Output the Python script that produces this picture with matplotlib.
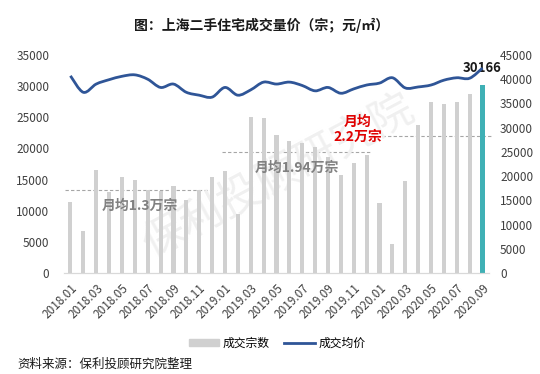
import numpy as np
import matplotlib.pyplot as plt
from matplotlib.path import Path
from matplotlib.patches import PathPatch, Patch
from matplotlib.lines import Line2D

plt.rcParams['font.family'] = ['Noto Sans CJK SC', 'DejaVu Sans']

# Data: monthly counts (left axis) and average price (right axis), 2018.01 - 2020.09
months = ['%d.%02d' % (y, m) for y in (2018, 2019, 2020) for m in range(1, 13)][:33]
counts = [11400, 6700, 16600, 13000, 15400, 14900, 13400, 13100, 13900, 11700, 13400, 15400,
          16300, 9400, 25000, 24900, 22200, 21200, 20800, 20300, 18600, 15700, 17600, 19000,
          11200, 4600, 14800, 23700, 27400, 27200, 27500, 28800, 30166]
prices = [40700, 37300, 39000, 39900, 40600, 40900, 40000, 38300, 39000, 37300, 36700, 36300,
          38300, 36700, 37800, 39400, 39000, 39400, 38700, 37600, 38300, 37100, 38000, 38800,
          39200, 40300, 38200, 38400, 38800, 39800, 40300, 40200, 42300]
avg_levels = [13400, 19400, 22000]
avg_labels = ['月均1.3万宗', '月均1.94万宗', '月均\n2.2万宗']

n = len(counts)
x = np.arange(n)

fig = plt.figure(figsize=(5.4, 3.74), dpi=100)
ax = fig.add_axes([0.1185, 0.270, 0.787, 0.583])
ax2 = ax.twinx()

bar_colors = ['#d0d0d0'] * (n - 1) + ['#3fb0b5']
ax.bar(x, counts, width=0.32, color=bar_colors, zorder=2)
ax.set_xlim(-0.5, n - 0.5)
ax.set_ylim(0, 35000)
ax.set_yticks(range(0, 35001, 5000))
ax2.set_ylim(0, 45000)
ax2.set_yticks(range(0, 45001, 5000))

# smooth price line (Catmull-Rom -> cubic bezier, like excel's smoothed line)
pts = np.column_stack([x, prices]).astype(float)
verts = [pts[0]]
codes = [Path.MOVETO]
for i in range(n - 1):
    p0 = pts[max(i - 1, 0)]
    p1 = pts[i]
    p2 = pts[i + 1]
    p3 = pts[min(i + 2, n - 1)]
    verts += [p1 + (p2 - p0) / 6, p2 - (p3 - p1) / 6, p2]
    codes += [Path.CURVE4] * 3
ax2.add_patch(PathPatch(Path(verts, codes), fill=False, edgecolor='#2f5597', lw=2, zorder=3))

# period averages
spans = [(-0.4, 11.1), (11.8, 23.4), (24.2, 32.7)]
for (a, b), lvl in zip(spans, avg_levels):
    ax.plot([a, b], [lvl, lvl], ls=(0, (3, 2)), color='#a6a6a6', lw=0.8, clip_on=False, zorder=1)
ax.text(5.4, 10700, avg_labels[0], ha='center', va='center', fontsize=10,
        fontweight='bold', color='#808080', zorder=4)
ax.text(17.6, 16800, avg_labels[1], ha='center', va='center', fontsize=10,
        fontweight='bold', color='#808080', zorder=4)
ax.text(22.3, 23000, avg_labels[2], ha='center', va='center', fontsize=10,
        fontweight='bold', color='#e00000', linespacing=1.1, zorder=4)

ax.annotate(str(counts[-1]), (x[-1], counts[-1]), xytext=(0, 7), textcoords='offset points',
            ha='center', va='bottom', fontsize=9.5, fontweight='bold', color='#1a1a1a', zorder=5)

# watermark, faint, under the bars
ax.text(0.515, 0.525, '保利投顾研究院', transform=fig.transFigure, fontsize=31, rotation=28,
        color='#f0f0f0', ha='center', va='center', zorder=1.5)

ax.set_xticks(x[::2])
ax.set_xticklabels(months[::2], rotation=45, ha='right', rotation_mode='anchor')
ax.tick_params(axis='x', length=0, labelsize=8.5, colors='#404040', pad=6)
ax.tick_params(axis='y', length=0, labelsize=8.5, colors='#404040', pad=10.5)
ax2.tick_params(axis='y', length=0, labelsize=8.5, colors='#404040', pad=8)
for a in (ax, ax2):
    for s in ('top', 'left', 'right'):
        a.spines[s].set_visible(False)
    a.spines['bottom'].set_color('#d9d9d9')
    a.set_facecolor('none')

fig.text(0.485, 0.933, '图：上海二手住宅成交量价（宗；元/㎡）', ha='center', va='center',
         fontsize=10, fontweight='bold', color='#1a1a1a')

handles = [Patch(color='#d0d0d0', label='成交宗数'),
           Line2D([], [], color='#2f5597', lw=2, label='成交均价')]
fig.legend(handles=handles, loc='center', bbox_to_anchor=(0.513, 0.082), ncol=2,
           frameon=False, fontsize=8.5, handlelength=2.6, handleheight=0.6,
           columnspacing=1.2, handletextpad=0.3)
fig.text(0.032, 0.025, '资料来源：保利投顾研究院整理', ha='left', va='center',
         fontsize=9, color='#1a1a1a')

fig.savefig('out.png', dpi=100)
